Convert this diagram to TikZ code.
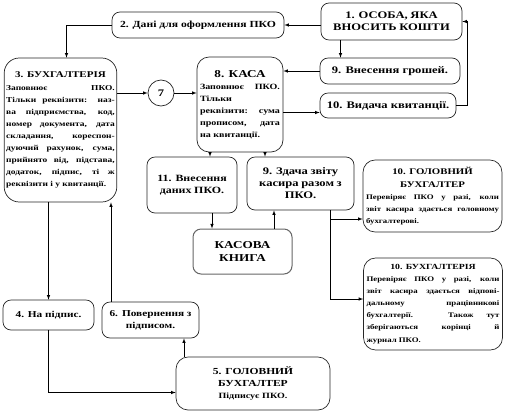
\documentclass[tikz,border=0pt]{standalone}
\usepackage{fontspec}
\setmainfont{Liberation Serif}[FakeStretch=1.25]
\usepackage{tikz}
\usetikzlibrary{calc,arrows,shapes}

\newcommand{\fs}[1]{\fontsize{#1}{12}\selectfont}
\newcommand{\ttl}[2]{{\centering\fontsize{#1}{13}\selectfont #2\par}}

\begin{document}
\begin{tikzpicture}[x=0.35mm,y=-0.35mm,
  font=\bfseries\fontsize{8}{12}\selectfont,
  box/.style={draw=black!85,line width=0.7pt,rectangle,rounded corners=8,inner sep=3pt,align=center},
  txtbox/.style={box,align=justify},
  arr/.style={-latex,line width=0.6pt}]
  \useasboundingbox (0,0) rectangle (514,414);

  % upper row
  \node[box,minimum width=141*0.35mm,minimum height=37*0.35mm,text width=46mm] (n1) at (391.5,21.5)
    {\fs{10}1. ОСОБА, ЯКА\\ ВНОСИТЬ КОШТИ};
  \node[box,font=\bfseries\fs{9.3},minimum width=172*0.35mm,minimum height=26*0.35mm] (n2) at (198,25)
    {2. Дані для оформлення ПКО};
  \node[box,font=\bfseries\fs{10},minimum width=140*0.35mm,minimum height=26*0.35mm] (n9a) at (390,71)
    {9. Внесення грошей.};
  \node[box,font=\bfseries\fs{10},minimum width=136*0.35mm,minimum height=25*0.35mm] (n10a) at (388,105.5)
    {10. Видача квитанції.};

  % bookkeeping and cash desk
  \node[txtbox,rounded corners=15,minimum height=144*0.35mm,text width=38mm,inner sep=2pt] (n3) at (60.5,130)
    {\ttl{8.8}{3. БУХГАЛТЕРІЯ}\vspace{1pt}
     \fontsize{7.5}{12}\selectfont
     Заповнює ПКО.\break Тільки реквізити: наз-\break ва підприємства, код,\break номер документа, дата\break
     складання, кореспон-\break дуючий рахунок, сума,\break прийнято від, підстава,\break
     додаток, підпис, ті~ж\break реквізити і~у~квитанції.};
  \node[circle,draw=black!85,line width=0.7pt,minimum size=26*0.35mm,inner sep=0pt,font=\bfseries\fs{10}] (n7) at (161,93)
    {7};
  \node[txtbox,rounded corners=12,minimum height=95*0.35mm,text width=28mm] (n8) at (240,104.5)
    {\ttl{10.5}{8. КАСА}
     Заповнює ПКО.\break Тільки\break реквізити: сума\break прописом, дата\break на квитанції.\par\vspace{6mm}};

  \node[box,minimum width=90*0.35mm,minimum height=56*0.35mm,text width=28mm] (n11) at (192,185)
    {\fs{9.5}11. Внесення\\ даних ПКО.\\[4mm]};
  \node[box,minimum width=107*0.35mm,minimum height=53*0.35mm,text width=34mm] (n9b) at (300.5,183.5)
    {\fs{10}9. Здача звіту\\ касира разом з\\ ПКО.\\[1mm]};
  \node[box,draw=black!60,line width=1pt,font=\bfseries\fontsize{10.5}{13}\selectfont,minimum width=99*0.35mm,minimum height=45*0.35mm] (nkb) at (242.5,251.5)
    {КАСОВА\\ КНИГА};

  % checking
  \node[txtbox,rounded corners=12,minimum height=72*0.35mm,text width=46.5mm] (n10b) at (432.5,196)
    {\ttl{8.6}{10. ГОЛОВНИЙ\\ БУХГАЛТЕР}
     \fontsize{7}{12.5}\selectfont Перевіряє ПКО у разі, коли\break звіт касира здається головному\break бухгалтерові.};
  \node[txtbox,rounded corners=12,minimum height=92*0.35mm,text width=46.5mm] (n10c) at (433,304)
    {\ttl{7.8}{10. БУХГАЛТЕРІЯ}
     \fontsize{7}{11.5}\selectfont Перевіряє ПКО у разі, коли\break звіт касира здається відпові-\break
     дальному працівникові\break бухгалтерії. Також тут\break зберігаються корінці й\break журнал ПКО.};

  % signature loop
  \node[box,font=\bfseries\fs{9},minimum width=91*0.35mm,minimum height=30*0.35mm] (n4) at (48.5,315)
    {4. На підпис.};
  \node[box,minimum width=97*0.35mm,minimum height=36*0.35mm,text width=31mm] (n6) at (150.5,320)
    {\fs{9}6. Повернення з\\ підписом.};
  \node[box,rounded corners=12,minimum width=154*0.35mm,minimum height=53*0.35mm,text width=50mm] (n5) at (253,383.5)
    {\fontsize{9.2}{12.5}\selectfont 5. ГОЛОВНИЙ\\ БУХГАЛТЕР\\ \fs{8}Підписує ПКО.};

  % helper points
  \coordinate (c1) at ($(n1.south)+(-51,0)$);
  \coordinate (c2) at ($(n8.east)+(0,8)$);
  \coordinate (c3) at ($(n10a.east)+(11,0)$);
  \coordinate (c4) at (n9b.south -| 330,0);
  \coordinate (c5) at ($(n5.west)+(0,9)$);

  % connectors
  \draw[arr] (n1.west |- n2.east) -- (n2.east);
  \draw[arr] (n2.west) -| ($(n3.north)+(6,0)$);
  \draw[arr] (c1) -- (c1 |- n9a.north);
  \draw[arr] (n9a.west) -- (n9a.west -| n8.east);
  \draw[arr] (c2) -- (c2 -| n10a.west);
  \draw[arr] (n10a.east) -- (c3) |- (n1.east);
  \draw[arr] (n3.east |- n7) -- (n7);
  \draw[arr] (n7) -- (n8.west |- n7);
  \draw[arr] (n8.south -| 210,0) -- (n11.north -| 210,0);
  \draw[arr] (n8.south -| 265,0) -- (n9b.north -| 265,0);
  \draw[arr] (n11.south -| 212,0) -- (nkb.north -| 212,0);
  \draw[arr] (nkb.north -| 274,0) -- (n9b.south -| 274,0);
  \draw[arr] (c4) |- ($(n10b.west)+(0,23)$);
  \draw[arr] (c4) |- ($(n10c.west)+(0,-5)$);
  \draw[arr] (n3.south -| n4) -- (n4.north);
  \draw[arr] (n4.south) |- (c5);
  \draw[arr] (n5.north -| 184,0) -- (n6.south -| 184,0);
  \draw[arr] (n6.north -| 111,0) -- (n3.south -| 111,0);
\end{tikzpicture}
\end{document}
